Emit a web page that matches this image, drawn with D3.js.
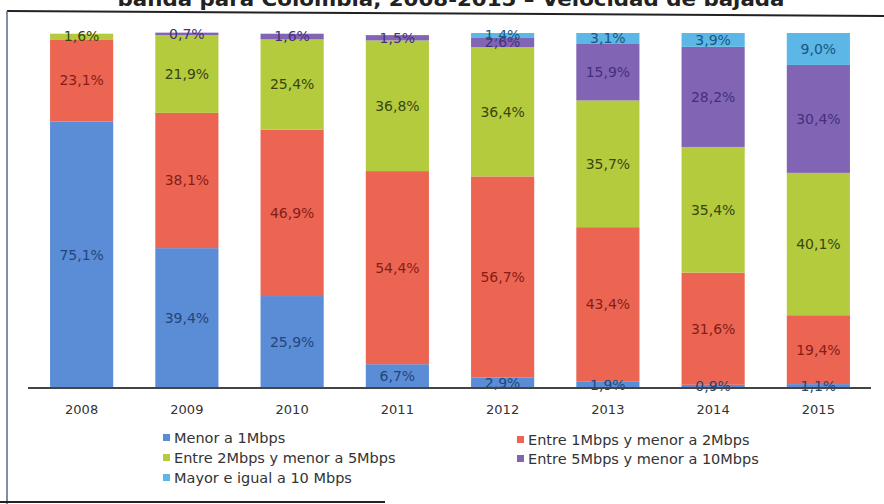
<!DOCTYPE html>
<html>
<head>
<meta charset="utf-8">
<script src="https://cdn.jsdelivr.net/npm/d3@7.9.0/dist/d3.min.js"></script>
<style>
  body { margin: 0; background: #fff; }
  svg { display: block; font-family: "DejaVu Sans", Verdana, sans-serif; }
</style>
</head>
<body>
<svg id="chart" width="884" height="504"></svg>
<script>
// data (percent of connections)
const years = ['2008', '2009', '2010', '2011', '2012', '2013', '2014', '2015'];
const seriesNames = [
  'Menor a 1Mbps',
  'Entre 1Mbps y menor a 2Mbps',
  'Entre 2Mbps y menor a 5Mbps',
  'Entre 5Mbps y menor a 10Mbps',
  'Mayor e igual a 10 Mbps'
];
const menor1 = [75.1, 39.4, 25.9, 6.7, 2.9, 1.9, 0.9, 1.1];
const entre1y2 = [23.1, 38.1, 46.9, 54.4, 56.7, 43.4, 31.6, 19.4];
const entre2y5 = [1.6, 21.9, 25.4, 36.8, 36.4, 35.7, 35.4, 40.1];
const entre5y10 = [0, 0.7, 1.6, 1.5, 2.6, 15.9, 28.2, 30.4];
const mayor10 = [0, 0, 0, 0, 1.4, 3.1, 3.9, 9.0];

const colors = ['#5b8dd6', '#ec6553', '#b4cb3e', '#8165b4', '#5cb6e6'];
const labelColors = ['#22457a', '#861c18', '#3a4510', '#45307a', '#1a5580'];

const allSeries = [menor1, entre1y2, entre2y5, entre5y10, mayor10];
const table = years.map((y, i) => {
  const row = { year: y };
  seriesNames.forEach((s, k) => { row[s] = allSeries[k][i]; });
  return row;
});

const svg = d3.select('#chart');

const x = d3.scaleBand().domain(years).range([29, 871]).paddingInner(0.4).paddingOuter(0.2);
const y = d3.scaleLinear().domain([0, 100]).range([388, 33]);

const layers = d3.stack().keys(seriesNames)(table);

// scanned frame remnants
svg.append('line').attr('x1', 7).attr('y1', 11).attr('x2', 884).attr('y2', 16)
  .attr('stroke', '#222').attr('stroke-width', 2);
svg.append('line').attr('x1', 7).attr('y1', 11).attr('x2', 7).attr('y2', 504)
  .attr('stroke', '#556a8a').attr('stroke-width', 1.5);
svg.append('line').attr('x1', 0).attr('y1', 502).attr('x2', 385).attr('y2', 502)
  .attr('stroke', '#222').attr('stroke-width', 2);

// title, cut off at the top of the scan
svg.append('text')
  .attr('x', 451).attr('y', 6)
  .attr('text-anchor', 'middle')
  .attr('font-size', 20).attr('font-weight', 'bold')
  .attr('textLength', 667).attr('lengthAdjust', 'spacingAndGlyphs')
  .attr('fill', '#222')
  .text('banda para Colombia, 2008-2015 \u2013 Velocidad de bajada');

const fmt = v => d3.format('.1f')(v).replace('.', ',') + '%';

layers.forEach((layer, k) => {
  svg.append('g').selectAll('rect')
    .data(layer)
    .join('rect')
    .attr('x', d => x(d.data.year))
    .attr('width', x.bandwidth())
    .attr('y', d => y(d[1]))
    .attr('height', d => y(d[0]) - y(d[1]))
    .attr('fill', colors[k]);
});

layers.forEach((layer, k) => {
  svg.append('g').selectAll('text')
    .data(layer.filter(d => d[1] - d[0] > 0))
    .join('text')
    .attr('x', d => x(d.data.year) + x.bandwidth() / 2)
    .attr('y', d => (y(d[0]) + y(d[1])) / 2)
    .attr('dy', '0.35em')
    .attr('text-anchor', 'middle')
    .attr('font-size', 14)
    .attr('fill', labelColors[k])
    .text(d => fmt(d[1] - d[0]));
});

// baseline axis
const xAxis = svg.append('g')
  .attr('transform', 'translate(0,388)')
  .call(d3.axisBottom(x).tickSize(0).tickPadding(17));
xAxis.select('.domain').attr('stroke', '#444').attr('stroke-width', 2).attr('d', 'M28,0H871');
xAxis.selectAll('text').attr('font-size', 13).attr('fill', '#333')
  .attr('font-family', '"DejaVu Sans", Verdana, sans-serif');

// legend
const legendPos = [[163, 438], [517, 440], [163, 458], [517, 459], [163, 478]];
const legend = svg.append('g').selectAll('g')
  .data(seriesNames)
  .join('g')
  .attr('transform', (d, i) => `translate(${legendPos[i][0]},${legendPos[i][1]})`);
legend.append('rect')
  .attr('x', 0).attr('y', -4).attr('width', 7).attr('height', 7)
  .attr('fill', (d, i) => colors[i]);
legend.append('text')
  .attr('x', 11).attr('dy', '0.35em')
  .attr('font-size', 14.5).attr('fill', '#333')
  .text(d => d);
</script>
</body>
</html>
